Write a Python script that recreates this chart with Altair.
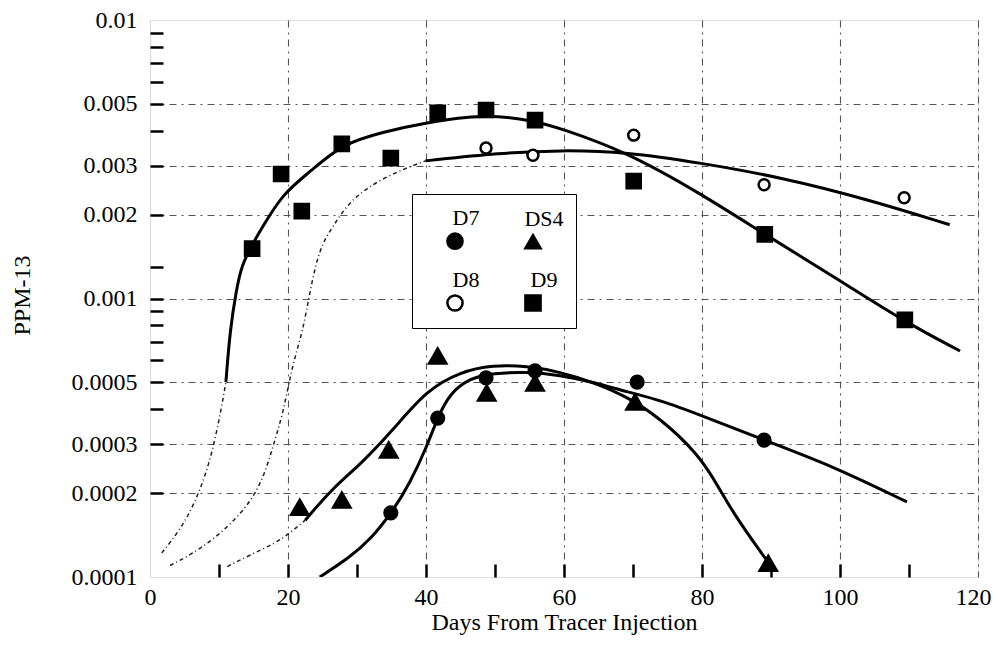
import altair as alt
import pandas as pd

# ---------------- series, listed in legend column order ----------------
SERIES = ["D7", "D8", "DS4", "D9"]
SHAPES = ["circle", "circle", "triangle-up", "square"]
FILLS = ["black", "white", "black", "black"]
OUTLINES = ["black", "black", "black", "black"]

# ---------------- measured data points ----------------
d7_days = [34.9, 41.7, 48.7, 55.8, 70.6, 89.0]
d7_ppm = [0.000170, 0.000372, 0.000519, 0.000550, 0.000501, 0.000310]

ds4_days = [21.7, 27.8, 34.6, 41.7, 48.8, 55.8, 70.3, 89.6]
ds4_ppm = [0.000178, 0.000189, 0.000286, 0.000622, 0.000458, 0.000497, 0.000425, 0.000112]

d8_days = [48.7, 55.5, 70.1, 89.0, 109.3]
d8_ppm = [0.00347, 0.00327, 0.00386, 0.00256, 0.00230]

d9_days = [14.8, 19.0, 22.0, 27.8, 34.9, 41.7, 48.7, 55.8, 70.1, 89.1, 109.4]
d9_ppm = [0.00151, 0.00280, 0.00206, 0.00359, 0.00319, 0.00464, 0.00475, 0.00437, 0.00264, 0.00170, 0.000838]

# ---------------- fitted curves (solid) ----------------
d7_fit_days = [24.6, 29.0, 31.9, 35.1, 37.7, 40.1, 41.7, 43.5, 46.4, 49.7, 54.6, 59.4, 64.2, 69.1, 73.9, 79.7, 89.0, 99.0, 109.7]
d7_fit_ppm = [0.000100, 0.000118, 0.000136, 0.000171, 0.000218, 0.000293, 0.000375, 0.000458, 0.000518, 0.000540,
              0.000545, 0.000531, 0.000501, 0.000462, 0.000432, 0.000382, 0.000310, 0.000250, 0.000186]

ds4_fit_days = [22.5, 26.5, 30.4, 35.2, 40.1, 44.9, 49.7, 54.6, 59.4, 64.2, 69.1, 73.9, 79.3, 82.2, 84.5, 88.8, 89.6]
ds4_fit_ppm = [0.000160, 0.000209, 0.000252, 0.000337, 0.000469, 0.000545, 0.000577, 0.000572, 0.000545, 0.000501,
               0.000445, 0.000372, 0.000279, 0.000215, 0.000170, 0.000120, 0.000113]

d8_fit_days = [39.9, 50.7, 59.4, 69.1, 79.7, 91.3, 104.3, 115.9]
d8_fit_ppm = [0.00312, 0.00333, 0.00341, 0.00336, 0.00307, 0.00273, 0.00226, 0.00184]

d9_fit_days = [11.0, 11.6, 12.5, 13.3, 14.8, 16.2, 19.3, 23.2, 27.8, 33.8, 39.6, 48.7, 55.8, 59.4, 69.1, 79.7, 89.1, 99.3, 109.4, 117.4]
d9_fit_ppm = [0.000501, 0.000771, 0.00107, 0.00132, 0.00156, 0.00179, 0.00239, 0.00285, 0.00359, 0.00396, 0.00427,
              0.00460, 0.00434, 0.00409, 0.00336, 0.00239, 0.00170, 0.00119, 0.000824, 0.000648]

# ---------------- leading curve segments (dash-dot) ----------------
ds4_lead_days = [11.2, 14.5, 18.1, 20.3, 22.5]
ds4_lead_ppm = [0.000109, 0.000120, 0.000132, 0.000144, 0.000160]

d8_lead_days = [2.9, 7.2, 12.0, 15.9, 17.8, 19.3, 20.7, 22.2, 23.2, 24.6, 26.5, 29.0, 33.8, 39.9]
d8_lead_ppm = [0.000110, 0.000125, 0.000156, 0.000205, 0.000293, 0.000388, 0.000586, 0.000771, 0.00107, 0.00153,
               0.00181, 0.00226, 0.00273, 0.00312]

d9_lead_days = [1.7, 4.3, 6.5, 8.3, 9.4, 10.3, 11.0]
d9_lead_ppm = [0.000122, 0.000147, 0.000184, 0.000242, 0.000310, 0.000398, 0.000501]

# ---------------- axis values ----------------
X_LABELS = [0, 20, 40, 60, 80, 100]
X_LAST = 120
X_TICKS = [10, 20, 30, 40, 50, 60, 70, 80, 90, 100, 110]
X_GRID = [20, 40, 60, 80, 100]
Y_LABELS = [0.0001, 0.0002, 0.0003, 0.0005, 0.001, 0.002, 0.003, 0.005, 0.01]
Y_TICKS = [0.0002, 0.0003, 0.0004, 0.0005, 0.0006, 0.0007, 0.0008, 0.0009, 0.001, 0.0013,
           0.002, 0.003, 0.004, 0.005, 0.006, 0.007, 0.008, 0.009]
Y_GRID = [0.0002, 0.0003, 0.0005, 0.001, 0.002, 0.003, 0.005]


def frame(key, name, days, ppm):
    return pd.DataFrame({key: name, "day": days, "ppm": ppm})


points = pd.concat([
    frame("series", "D7", d7_days, d7_ppm),
    frame("series", "DS4", ds4_days, ds4_ppm),
    frame("series", "D8", d8_days, d8_ppm),
    frame("series", "D9", d9_days, d9_ppm),
], ignore_index=True)

solid = pd.concat([
    frame("curve", "D7", d7_fit_days, d7_fit_ppm),
    frame("curve", "DS4", ds4_fit_days, ds4_fit_ppm),
    frame("curve", "D8", d8_fit_days, d8_fit_ppm),
    frame("curve", "D9", d9_fit_days, d9_fit_ppm),
], ignore_index=True)

dashed = pd.concat([
    frame("curve", "DS4", ds4_lead_days, ds4_lead_ppm),
    frame("curve", "D8", d8_lead_days, d8_lead_ppm),
    frame("curve", "D9", d9_lead_days, d9_lead_ppm),
], ignore_index=True)

FONT = "Liberation Serif"
xs = alt.Scale(domain=[0, 120], nice=False, zero=False)
ys = alt.Scale(type="log", domain=[0.0001, 0.01], nice=False)

# layer 1: dash-dot leading curves; carries the grid and the flush "120" label
grid_layer = alt.Chart(dashed).mark_line(
    color="#222222", strokeWidth=1.5, strokeDash=[4, 3, 1, 3], interpolate="basis", clip=True
).encode(
    x=alt.X("day:Q", scale=xs, axis=alt.Axis(
        orient="bottom", values=X_GRID + [X_LAST], grid=True, ticks=False, domain=False, title=None,
        gridColor="#555555", gridWidth=1.1, gridDash=[7, 5, 2, 5],
        labels=True, labelExpr="datum.value == %d ? '%d' : ''" % (X_LAST, X_LAST),
        labelFlush=False, labelAlign="right", labelOffset=13, labelPadding=8,
        labelFont=FONT, labelFontSize=24, labelColor="black")),
    y=alt.Y("ppm:Q", scale=ys, axis=alt.Axis(
        orient="left", values=Y_GRID, grid=True, ticks=False, labels=False, domain=False, title=None,
        gridColor="#555555", gridWidth=1.1, gridDash=[7, 5, 2, 5])),
    detail="curve:N",
)

# layer 2: solid fitted curves; carries inward ticks
tick_layer = alt.Chart(solid).mark_line(
    color="black", strokeWidth=3, interpolate="basis", clip=True
).encode(
    x=alt.X("day:Q", scale=xs, axis=alt.Axis(
        orient="bottom", values=X_TICKS, grid=False, ticks=True, tickSize=13, tickWidth=2.5,
        tickColor="black", offset=-13, labels=False, domain=False, title=None)),
    y=alt.Y("ppm:Q", scale=ys, axis=alt.Axis(
        orient="left", values=Y_TICKS, grid=False, ticks=True, tickSize=13, tickWidth=2.5,
        tickColor="black", offset=-13, labels=False, domain=False, title=None)),
    detail="curve:N",
)

PAD_L = "\u00a0"
PAD_R = "\u00a0" * 5
legend = alt.Legend(
    title="\u00a0", titleFontSize=12, titlePadding=12,
    orient="none", legendX=262, legendY=174, columns=2,
    strokeColor="black", fillColor="white", padding=12,
    labelFont=FONT, labelFontSize=22, labelColor="black", labelAlign="center", labelBaseline="line-bottom",
    labelOffset=0, symbolOffset=20, labelExpr="'" + PAD_L + "' + datum.label + '" + PAD_R + "'",
    symbolSize=230, symbolStrokeColor="black", symbolStrokeWidth=2.5,
    columnPadding=22, rowPadding=15,
)

# layer 3: data points; carries the labelled axes and the legend
point_layer = alt.Chart(points).transform_calculate(
    msize="{'D7': 160, 'DS4': 300, 'D8': 120, 'D9': 200}[datum.series]"
).mark_point(
    filled=True, strokeWidth=2.5, opacity=1
).encode(
    x=alt.X("day:Q", scale=xs, axis=alt.Axis(
        orient="bottom", values=X_LABELS, grid=False, ticks=False, domain=False, labelFlush=False,
        labelFont=FONT, labelFontSize=24, labelColor="black", labelPadding=8,
        title="Days From Tracer Injection", titleFont=FONT, titleFontSize=24, titleFontWeight="normal",
        titleColor="black", titleY=45, titleBaseline="middle")),
    y=alt.Y("ppm:Q", scale=ys, axis=alt.Axis(
        orient="left", values=Y_LABELS, format="~g", grid=False, ticks=False, domain=False, labelFlush=False,
        labelFont=FONT, labelFontSize=24, labelColor="black", labelPadding=13,
        title="PPM-13", titleFont=FONT, titleFontSize=24, titleFontWeight="normal", titleColor="black",
        titleX=-128, titleY=275, titleAngle=270, titleAlign="center", titleBaseline="middle")),
    shape=alt.Shape("series:N", scale=alt.Scale(domain=SERIES, range=SHAPES), legend=legend),
    fill=alt.Fill("series:N", scale=alt.Scale(domain=SERIES, range=FILLS), legend=legend),
    stroke=alt.Stroke("series:N", scale=alt.Scale(domain=SERIES, range=OUTLINES), legend=legend),
    size=alt.Size("msize:Q", scale=None),
)

chart = alt.layer(grid_layer, tick_layer, point_layer).resolve_axis(
    x="independent", y="independent"
).properties(
    width=828, height=557,
    autosize=alt.AutoSizeParams(type="none"),
    padding={"left": 142, "top": 12, "right": 13, "bottom": 70},
    background="white",
).configure_view(
    stroke="black", strokeWidth=2.5
).configure_legend(
    strokeWidth=3
).configure(
    style={"guide-label": {"lineHeight": 44}}
)

chart.save("out.html", embed_options={"renderer": "svg", "actions": False})
